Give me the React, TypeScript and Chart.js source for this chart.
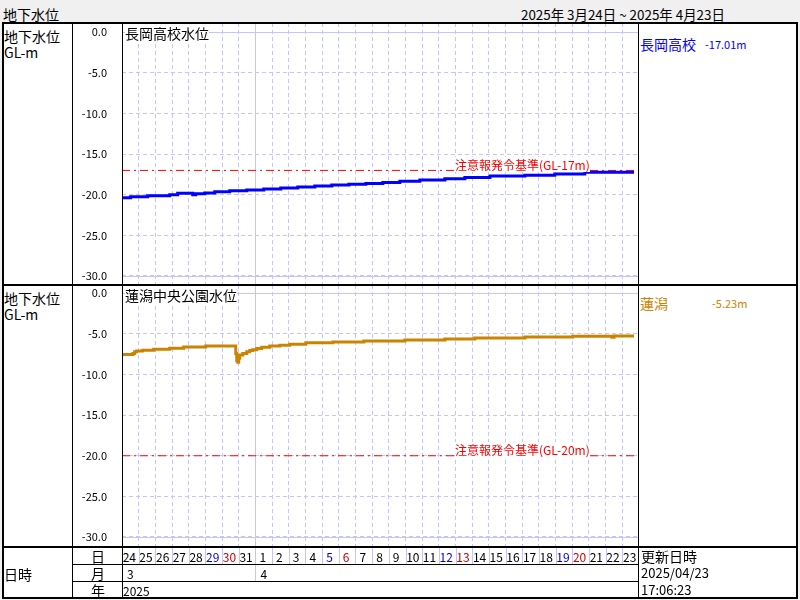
import React, { useEffect, useRef } from "react";
import { Chart, registerables } from "chart.js";

Chart.register(...registerables);

// ---------- data ----------
const DAYS = ["24","25","26","27","28","29","30","31","1","2","3","4","5","6","7","8","9","10","11","12","13","14","15","16","17","18","19","20","21","22","23"];
const SATURDAYS = ["29", "5", "12", "19"];
const SUNDAYS = ["30", "6", "13", "20"];
const MONTHS = ["3", "4"];
const MONTH_START = [0, 8];
const YEAR = "2025";
const Y_TICKS = [0, -5, -10, -15, -20, -25, -30];
const SOLID_Y = [0, -30];

// 長岡高校 (days since 3/24 00:00, GL-m)
const NAGAOKA_DAY = [0, 0.52, 1.54, 2.86, 3.34, 4.24, 4.42, 4.96, 5.56, 6.46, 7.48, 8.5, 9.52, 10.54, 11.56, 12.58, 13.6, 14.62, 15.64, 16.66, 17.86, 19.36, 20.56, 22.06, 24.16, 25.95, 27.75, 28.95, 30.7];
const NAGAOKA_GL = [-20.5, -20.38, -20.25, -20.13, -20.0, -19.8, -20.0, -19.89, -19.77, -19.64, -19.52, -19.4, -19.28, -19.16, -19.04, -18.92, -18.8, -18.7, -18.6, -18.5, -18.33, -18.17, -18.04, -17.88, -17.7, -17.59, -17.43, -17.22, -17.22];
const NAGAOKA_ALERT = -17;
const NAGAOKA_LATEST = "-17.01m";

// 蓮潟中央公園
const HASUGATA_DAY = [0, 0.65, 0.76, 0.88, 1.24, 1.9, 2.86, 3.7, 5.02, 6.22, 6.82, 6.88, 6.94, 7.0, 7.06, 7.24, 7.48, 7.66, 7.84, 8.08, 8.38, 8.86, 9.46, 10.06, 11.02, 12.64, 14.5, 16.96, 19.36, 21.16, 24.16, 27.03, 29.37, 29.5, 30.04, 30.7];
const HASUGATA_GL = [-7.42, -7.52, -7.42, -7.2, -7.1, -7.0, -6.9, -6.77, -6.6, -6.48, -6.5, -7.4, -8.3, -8.5, -8.0, -7.6, -7.4, -7.2, -7.05, -6.95, -6.8, -6.64, -6.5, -6.4, -6.27, -6.1, -5.98, -5.86, -5.74, -5.62, -5.5, -5.37, -5.28, -5.4, -5.25, -5.25];
const HASUGATA_ALERT = -20;
const HASUGATA_LATEST = "-5.23m";

// ---------- style ----------
const FONT = "'Noto Sans CJK JP', 'Noto Sans', sans-serif";
const GRID = "#c4c4ff";
const BLUE = "#0000ff";
const ORANGE = "#cc8400";
const RED = "#ff0000";
const SAT = "#0000c8";
const SUN = "#c80000";

const PLOT_L = 122;
const PLOT_R = 639;
const CELL = (PLOT_R - PLOT_L) / DAYS.length;

const solidGrid = {
  id: "solidGrid",
  beforeDatasetsDraw(chart: any) {
    const { ctx, chartArea: a, scales } = chart;
    ctx.save();
    ctx.strokeStyle = GRID;
    ctx.lineWidth = 1;
    ctx.setLineDash([]);
    ctx.beginPath();
    SOLID_Y.forEach((v) => {
      const p = Math.round(scales.y.getPixelForValue(v)) + 0.5;
      ctx.moveTo(a.left, p);
      ctx.lineTo(a.right, p);
    });
    MONTH_START.slice(1).forEach((d) => {
      const p = Math.round(scales.x.getPixelForValue(d)) + 0.5;
      ctx.moveTo(p, a.top);
      ctx.lineTo(p, a.bottom);
    });
    ctx.stroke();
    ctx.restore();
  },
};

function makeChart(canvas: HTMLCanvasElement, days: number[], gl: number[], color: string, alert: number, yMax: number, yMin: number) {
  const xTicks = DAYS.map((_, i) => i).concat([DAYS.length]);
  return new Chart(canvas, {
    type: "line",
    data: {
      datasets: [
        {
          data: days.map((d, i) => ({ x: d, y: gl[i] })),
          borderColor: color,
          borderWidth: 3,
          pointRadius: 0,
          stepped: "after",
          fill: false,
        } as any,
        {
          data: [{ x: 0, y: alert }, { x: DAYS.length, y: alert }],
          borderColor: RED,
          borderWidth: 1,
          borderDash: [8, 4, 2, 4],
          pointRadius: 0,
          fill: false,
        },
      ],
    },
    options: {
      animation: false,
      responsive: false,
      events: [],
      layout: { padding: 0 },
      plugins: { legend: { display: false }, tooltip: { enabled: false }, title: { display: false } },
      scales: {
        x: {
          type: "linear",
          min: 0,
          max: DAYS.length,
          bounds: "data",
          afterBuildTicks: (s: any) => { s.ticks = xTicks.map((v) => ({ value: v })); },
          ticks: { display: false },
          grid: { color: GRID, drawTicks: false, lineWidth: 1 },
          border: { display: false, dash: [4, 3] },
          afterFit: (s: any) => { s.height = 0; s.paddingLeft = 0; s.paddingRight = 0; },
        },
        y: {
          type: "linear",
          min: yMin,
          max: yMax,
          bounds: "data",
          afterBuildTicks: (s: any) => { s.ticks = Y_TICKS.map((v) => ({ value: v })); },
          ticks: {
            autoSkip: false,
            padding: 15,
            color: "#000",
            font: { size: 11, family: FONT },
            callback: (v: any) => Number(v).toFixed(1),
          },
          grid: { color: GRID, drawTicks: false, lineWidth: 1 },
          border: { display: false, dash: [4, 3] },
          afterFit: (s: any) => { s.width = PLOT_L - 73; s.paddingTop = 0; s.paddingBottom = 0; },
        },
      },
    } as any,
    plugins: [solidGrid],
  });
}

function T(props: { x: number; y: number; s?: number; c?: string; bg?: string; w?: number; align?: "left" | "center"; children: any }) {
  const s = props.s ?? 14;
  const h = Math.round(s * 1.25);
  const style: any = {
    position: "absolute",
    top: props.y - h / 2,
    height: h,
    lineHeight: h + "px",
    fontSize: s,
    color: props.c ?? "#000",
    whiteSpace: "nowrap",
    fontFamily: FONT,
    background: props.bg,
  };
  if (props.align === "center") {
    style.left = props.x - (props.w ?? 20) / 2;
    style.width = props.w ?? 20;
    style.textAlign = "center";
  } else {
    style.left = props.x;
  }
  return <div style={style}>{props.children}</div>;
}

function Line(p: { x: number; y: number; w: number; h: number; c?: string }) {
  return <div style={{ position: "absolute", left: p.x, top: p.y, width: p.w, height: p.h, background: p.c ?? "#000" }} />;
}

export default function App() {
  const topRef = useRef<HTMLCanvasElement>(null);
  const botRef = useRef<HTMLCanvasElement>(null);

  useEffect(() => {
    const c1 = makeChart(topRef.current!, NAGAOKA_DAY, NAGAOKA_GL, BLUE, NAGAOKA_ALERT, 9.3 / 8.123, -(261 - 9.3) / 8.123);
    const c2 = makeChart(botRef.current!, HASUGATA_DAY, HASUGATA_GL, ORANGE, HASUGATA_ALERT, 8.3 / 8.123, -(262 - 8.3) / 8.123);
    return () => { c1.destroy(); c2.destroy(); };
  }, []);

  return (
    <div style={{ position: "fixed", left: 0, top: 0, width: 800, height: 600, background: "#f0f0f0", overflow: "hidden", fontFamily: FONT }}>
      <T x={3} y={14} s={14}>地下水位</T>
      <T x={521} y={14} s={13.4}>2025年 3月24日 ~ 2025年 4月23日</T>

      <div style={{ position: "absolute", left: 2, top: 22, width: 796, height: 577, background: "#fff" }} />

      <canvas ref={topRef} width={PLOT_R - 73} height={261} style={{ position: "absolute", left: 73, top: 23 }} />
      <canvas ref={botRef} width={PLOT_R - 73} height={262} style={{ position: "absolute", left: 73, top: 285 }} />

      {/* panel labels */}
      <T x={4} y={36} s={14}>地下水位</T>
      <T x={4} y={52} s={14}>GL-m</T>
      <T x={4} y={298} s={14}>地下水位</T>
      <T x={4} y={314} s={14}>GL-m</T>

      <T x={125} y={33} s={14} bg="#fff">長岡高校水位</T>
      <T x={125} y={295} s={14} bg="#fff">蓮潟中央公園水位</T>

      <T x={455} y={164} s={12} c={RED} bg="#fff">注意報発令基準(GL-17m)</T>
      <T x={455} y={449} s={12} c={RED} bg="#fff">注意報発令基準(GL-20m)</T>

      <T x={640} y={44} s={14} c={BLUE}>長岡高校</T>
      <T x={705} y={44} s={11} c={BLUE}>{NAGAOKA_LATEST}</T>
      <T x={640} y={303} s={14} c={ORANGE}>蓮潟</T>
      <T x={712} y={303} s={11} c={ORANGE}>{HASUGATA_LATEST}</T>

      {/* date table */}
      {DAYS.map((d, i) => (
        <T key={d + i} x={PLOT_L + (i + 0.5) * CELL - 1} y={556} s={12} align="center" w={CELL}
           c={SATURDAYS.includes(d) && i > 4 ? SAT : SUNDAYS.includes(d) && i > 5 ? SUN : "#000"}>{d}</T>
      ))}
      {DAYS.slice(1).map((_, i) => (
        <Line key={"sep" + i} x={Math.round(PLOT_L + (i + 1) * CELL)} y={548} w={1}
              h={MONTH_START.includes(i + 1) ? 33 : 16} c={GRID} />
      ))}
      {MONTHS.map((m, i) => (
        <T key={"m" + m} x={PLOT_L + MONTH_START[i] * CELL + 5} y={573} s={12}>{m}</T>
      ))}
      <T x={123} y={590} s={12}>{YEAR}</T>
      <T x={4} y={574} s={14}>日時</T>
      <T x={98} y={556} s={14} align="center" w={30}>日</T>
      <T x={98} y={573} s={14} align="center" w={30}>月</T>
      <T x={98} y={590} s={14} align="center" w={30}>年</T>
      <T x={641} y={556} s={14}>更新日時</T>
      <T x={641} y={573} s={13}>2025/04/23</T>
      <T x={641} y={590} s={13}>17:06:23</T>

      {/* frame */}
      <Line x={2} y={22} w={796} h={2} />
      <Line x={2} y={284} w={796} h={2} />
      <Line x={2} y={546} w={796} h={2} />
      <Line x={2} y={597} w={796} h={2} />
      <Line x={73} y={564} w={566} h={1} />
      <Line x={73} y={581} w={566} h={1} />
      <Line x={2} y={22} w={2} h={577} />
      <Line x={72} y={22} w={1} h={577} />
      <Line x={PLOT_L} y={22} w={1} h={577} />
      <Line x={638} y={22} w={1} h={577} />
      <Line x={796} y={22} w={2} h={577} />
    </div>
  );
}
